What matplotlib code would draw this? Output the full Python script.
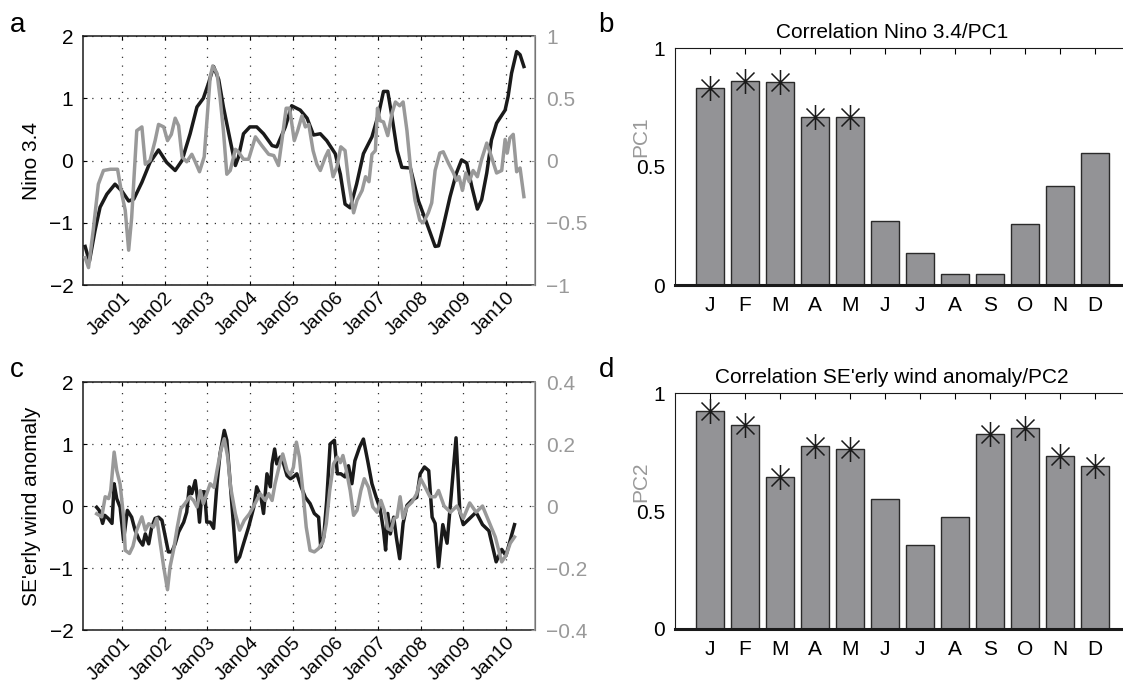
import numpy as np
import matplotlib
matplotlib.use('Agg')
import matplotlib.pyplot as plt
from matplotlib.path import Path

plt.rcParams['font.family'] = ['Liberation Sans', 'DejaVu Sans']
plt.rcParams['font.size'] = 15

# --- time series (decimal years) ---
# panel a, black: Nino 3.4 (left axis)
t_nino = [2000.14, 2000.24, 2000.37, 2000.49, 2000.65, 2000.84, 2001.0, 2001.16, 2001.28, 2001.47,
          2001.66, 2001.86, 2002.05, 2002.25, 2002.41, 2002.6, 2002.76, 2002.91, 2003.03, 2003.15,
          2003.27, 2003.38, 2003.54, 2003.66, 2003.73, 2003.85, 2004.0, 2004.16, 2004.32, 2004.52,
          2004.63, 2004.83, 2004.98, 2005.18, 2005.34, 2005.49, 2005.65, 2005.8, 2006.0, 2006.12,
          2006.23, 2006.35, 2006.5, 2006.66, 2006.86, 2007.02, 2007.13, 2007.23, 2007.33, 2007.45,
          2007.56, 2007.76, 2007.95, 2008.14, 2008.34, 2008.42, 2008.53, 2008.69, 2008.84, 2008.96,
          2009.08, 2009.2, 2009.33, 2009.43, 2009.55, 2009.66, 2009.78, 2009.98, 2010.05, 2010.13,
          2010.25, 2010.33, 2010.42]
nino = [-1.38, -1.62, -1.13, -0.75, -0.54, -0.38, -0.49, -0.65, -0.62, -0.35,
        -0.03, 0.17, -0.03, -0.16, 0.0, 0.43, 0.86, 1.0, 1.24, 1.51,
        1.3, 0.86, 0.32, -0.08, 0.05, 0.43, 0.54, 0.54, 0.43, 0.24,
        0.22, 0.54, 0.88, 0.81, 0.68, 0.41, 0.43, 0.32, 0.11, -0.22,
        -0.7, -0.76, -0.38, 0.11, 0.38, 0.76, 1.11, 1.11, 0.7, 0.16,
        -0.11, -0.12, -0.65, -1.0, -1.38, -1.37, -1.06, -0.58, -0.2, 0.01,
        -0.04, -0.42, -0.78, -0.63, -0.2, 0.33, 0.6, 0.81, 1.03, 1.4,
        1.75, 1.7, 1.51]

# panel a, grey: PC1 (right axis)
t_pc1 = [2000.14, 2000.22, 2000.33, 2000.45, 2000.57, 2000.73, 2000.9, 2001.0, 2001.08, 2001.16,
         2001.23, 2001.35, 2001.47, 2001.55, 2001.66, 2001.78, 2001.86, 2001.98, 2002.07, 2002.16,
         2002.25, 2002.33, 2002.41, 2002.52, 2002.64, 2002.72, 2002.82, 2002.93, 2003.0, 2003.07,
         2003.13, 2003.23, 2003.3, 2003.38, 2003.46, 2003.54, 2003.66, 2003.73, 2003.85, 2003.97,
         2004.13, 2004.28, 2004.44, 2004.56, 2004.67, 2004.75, 2004.85, 2004.93, 2005.04, 2005.12,
         2005.22, 2005.3, 2005.38, 2005.48, 2005.57, 2005.65, 2005.77, 2005.84, 2005.95, 2006.04,
         2006.13, 2006.23, 2006.31, 2006.43, 2006.51, 2006.63, 2006.71, 2006.79, 2006.86, 2006.94,
         2006.99, 2007.05, 2007.13, 2007.23, 2007.33, 2007.41, 2007.51, 2007.59, 2007.68, 2007.77,
         2007.87, 2007.98, 2008.06, 2008.18, 2008.26, 2008.34, 2008.45, 2008.53, 2008.65, 2008.77,
         2008.84, 2008.9, 2008.98, 2009.06, 2009.14, 2009.23, 2009.33, 2009.43, 2009.55, 2009.66,
         2009.78, 2009.9, 2009.98, 2010.03, 2010.09, 2010.17, 2010.25, 2010.33, 2010.42]
pc1 = [-0.78, -0.86, -0.56, -0.19, -0.08, -0.07, -0.07, -0.27, -0.4, -0.72,
       -0.46, 0.24, 0.27, -0.03, 0.0, 0.16, 0.29, 0.27, 0.16, 0.21,
       0.34, 0.28, 0.03, -0.01, 0.05, -0.01, -0.09, 0.03, 0.35, 0.67,
       0.76, 0.7, 0.51, 0.24, -0.11, -0.08, 0.09, 0.07, 0.01, 0.01,
       0.19, 0.12, 0.05, 0.04, -0.04, 0.16, 0.42, 0.42, 0.16, 0.24,
       0.36, 0.27, 0.29, 0.08, -0.03, -0.08, 0.03, 0.08, -0.13, -0.05,
       0.11, 0.08, -0.16, -0.42, -0.32, -0.24, -0.13, -0.17, 0.05, 0.08,
       0.42, 0.32, 0.31, 0.2, 0.38, 0.47, 0.44, 0.47, 0.24, -0.08,
       -0.32, -0.48, -0.5, -0.42, -0.34, -0.08, 0.06, 0.07, -0.02, -0.1,
       -0.16, -0.13, -0.24, -0.1, -0.17, -0.08, -0.13, 0.01, 0.14, 0.03,
       -0.1, -0.08, 0.17, 0.06, 0.18, 0.21, -0.09, -0.06, -0.29]

# panel c, black: SE'erly wind anomaly (left axis)
t_wind = [2000.41, 2000.47, 2000.55, 2000.6, 2000.68, 2000.77, 2000.82, 2000.88, 2000.96, 2001.04,
          2001.13, 2001.23, 2001.31, 2001.41, 2001.49, 2001.55, 2001.63, 2001.7, 2001.78, 2001.86,
          2001.94, 2002.02, 2002.09, 2002.17, 2002.25, 2002.33, 2002.45, 2002.52, 2002.58, 2002.64,
          2002.72, 2002.77, 2002.82, 2002.88, 2002.94, 2002.99, 2003.07, 2003.15, 2003.23, 2003.3,
          2003.4, 2003.46, 2003.54, 2003.62, 2003.68, 2003.76, 2003.85, 2003.97, 2004.09, 2004.16,
          2004.26, 2004.32, 2004.4, 2004.48, 2004.52, 2004.58, 2004.63, 2004.71, 2004.79, 2004.87,
          2004.95, 2005.02, 2005.1, 2005.2, 2005.3, 2005.41, 2005.51, 2005.61, 2005.66, 2005.73,
          2005.8, 2005.88, 2005.98, 2006.05, 2006.13, 2006.23, 2006.31, 2006.39, 2006.46, 2006.57,
          2006.66, 2006.76, 2006.86, 2006.96, 2007.05, 2007.13, 2007.18, 2007.23, 2007.29, 2007.37,
          2007.43, 2007.51, 2007.59, 2007.68, 2007.79, 2007.91, 2007.99, 2008.09, 2008.19, 2008.27,
          2008.34, 2008.42, 2008.52, 2008.62, 2008.72, 2008.83, 2008.92, 2009.0, 2009.15, 2009.3,
          2009.45, 2009.6, 2009.77, 2009.9, 2010.0, 2010.1, 2010.2]
wind = [-0.02, -0.07, -0.28, -0.15, -0.2, -0.28, 0.36, 0.12, -0.02, -0.55,
        -0.07, -0.18, -0.39, -0.55, -0.63, -0.45, -0.61, -0.34, -0.2, -0.18,
        -0.23, -0.5, -0.74, -0.74, -0.61, -0.42, -0.26, -0.1, 0.31, 0.2,
        0.41, 0.14, -0.26, 0.23, 0.23, -0.26, -0.26, -0.36, 0.36, 0.84,
        1.22, 1.06, 0.36, -0.34, -0.9, -0.82, -0.61, -0.34, -0.02, 0.31,
        0.14, -0.12, 0.52, 0.31, 0.68, 0.92, 0.68, 0.79, 0.68, 0.49,
        0.44, 0.47, 0.52, 0.31, 0.14, 0.04, -0.12, -0.18, -0.66, -0.5,
        0.09, 1.0, 1.06, 0.52, 0.52, 0.47, 0.65, 0.36, 0.73, 0.95,
        1.08, 0.73, 0.36, 0.14, -0.04, -0.39, -0.71, -0.12, -0.45, -0.18,
        -0.5, -0.85, -0.28, 0.01, 0.09, 0.14, 0.52, 0.63, 0.57, -0.18,
        -0.28, -0.98, -0.3, -0.6, 0.2, 1.1, -0.1, -0.3, -0.2, -0.1,
        -0.3, -0.4, -0.9, -0.7, -0.8, -0.55, -0.3]

# panel c, grey: PC2 (right axis)
t_pc2 = [2000.41, 2000.53, 2000.61, 2000.69, 2000.74, 2000.82, 2000.88, 2000.96, 2001.04, 2001.08,
         2001.18, 2001.26, 2001.35, 2001.47, 2001.55, 2001.63, 2001.74, 2001.82, 2001.9, 2001.98,
         2002.07, 2002.13, 2002.21, 2002.3, 2002.38, 2002.48, 2002.59, 2002.68, 2002.76, 2002.84,
         2002.91, 2002.99, 2003.07, 2003.16, 2003.23, 2003.32, 2003.4, 2003.48, 2003.55, 2003.66,
         2003.76, 2003.87, 2003.99, 2004.12, 2004.24, 2004.36, 2004.44, 2004.52, 2004.59, 2004.7,
         2004.77, 2004.87, 2004.95, 2005.02, 2005.09, 2005.16, 2005.24, 2005.32, 2005.41, 2005.51,
         2005.61, 2005.71, 2005.79, 2005.87, 2005.96, 2006.05, 2006.12, 2006.18, 2006.26, 2006.35,
         2006.43, 2006.51, 2006.6, 2006.68, 2006.78, 2006.88, 2006.98, 2007.07, 2007.15, 2007.23,
         2007.31, 2007.38, 2007.45, 2007.52, 2007.59, 2007.68, 2007.8, 2007.91, 2008.0, 2008.11,
         2008.22, 2008.34, 2008.42, 2008.55, 2008.7, 2008.85, 2009.0, 2009.15, 2009.3, 2009.45,
         2009.6, 2009.75, 2009.9, 2010.0, 2010.1, 2010.2]
pc2 = [-0.025, -0.035, 0.03, 0.024, 0.05, 0.174, 0.115, 0.07, -0.035, -0.143,
       -0.153, -0.13, -0.078, -0.035, -0.078, -0.057, -0.068, -0.04, -0.12, -0.196,
       -0.27, -0.196, -0.143, -0.068, -0.009, 0.008, 0.03, 0.018, -0.003, 0.05,
       0.008, 0.04, 0.072, 0.06, 0.115, 0.18, 0.217, 0.158, 0.06, -0.025,
       -0.078, -0.046, -0.025, 0.008, 0.04, 0.018, 0.04, 0.018, 0.072, 0.136,
       0.168, 0.115, 0.1, 0.125, 0.206, 0.158, 0.05, -0.068, -0.143, -0.148,
       -0.137, -0.116, -0.057, 0.05, 0.136, 0.158, 0.14, 0.163, 0.115, 0.05,
       -0.03, -0.014, 0.05, 0.088, 0.06, -0.003, -0.02, 0.018, -0.014, -0.073,
       -0.078, -0.04, -0.035, 0.03, -0.04, -0.003, 0.013, 0.04, 0.088, 0.06,
       0.03, 0.03, 0.05, 0.0, -0.02, 0.0, -0.04, 0.01, -0.02, 0.0,
       -0.05, -0.1, -0.18, -0.16, -0.12, -0.1]

year_ticks = [2001, 2002, 2003, 2004, 2005, 2006, 2007, 2008, 2009, 2010]
year_labels = ['Jan01', 'Jan02', 'Jan03', 'Jan04', 'Jan05', 'Jan06', 'Jan07', 'Jan08', 'Jan09', 'Jan10']

# --- monthly correlations ---
months = ['J', 'F', 'M', 'A', 'M', 'J', 'J', 'A', 'S', 'O', 'N', 'D']
corr_pc1 = [0.831, 0.859, 0.855, 0.708, 0.711, 0.270, 0.134, 0.046, 0.046, 0.256, 0.417, 0.555]
sig_pc1 = [1, 1, 1, 1, 1, 0, 0, 0, 0, 0, 0, 0]
corr_pc2 = [0.923, 0.865, 0.646, 0.776, 0.761, 0.552, 0.358, 0.475, 0.827, 0.852, 0.735, 0.692]
sig_pc2 = [1, 1, 1, 1, 1, 0, 0, 0, 1, 1, 1, 1]

BLACK = '#1a1a1a'
GREY = '#999999'
BAR = '#939396'

# asterisk: vertical bar + x
star = Path([(0, -1), (0, 1), (-0.72, -0.72), (0.72, 0.72), (-0.72, 0.72), (0.72, -0.72)],
            [Path.MOVETO, Path.LINETO, Path.MOVETO, Path.LINETO, Path.MOVETO, Path.LINETO])

fig = plt.figure(figsize=(11.23, 6.86), dpi=100)


def ts_panel(rect, t1, y1, t2, y2, ylim, rlim, rticks, ylabel):
    ax = fig.add_axes(rect)
    ax2 = ax.twinx()
    ax.plot(t1, y1, color=BLACK, lw=2.5, zorder=3)
    ax2.plot(t2, y2, color=GREY, lw=2.5, zorder=3)
    ax.set_xlim(2000.09, 2010.68)
    ax.set_ylim(*ylim)
    ax.set_yticks([-2, -1, 0, 1, 2])
    ax.set_yticklabels(['\u22122', '\u22121', '0', '1', '2'])
    ax2.set_ylim(*rlim)
    ax2.set_yticks(rticks)
    ax2.set_yticklabels([('%g' % v).replace('-', '\u2212') for v in rticks], color=GREY)
    ax.set_xticks(year_ticks)
    ax.set_xticklabels(year_labels, rotation=45, ha='right', rotation_mode='anchor', fontsize=14)
    ax.grid(True, ls=(0, (1, 6)), color='#333333', lw=0.9)
    ax.tick_params(axis='y', direction='in', length=3, labelsize=15, pad=7)
    ax.tick_params(axis='x', direction='in', length=3, top=True, pad=3)
    ax2.tick_params(direction='in', length=3, colors=GREY, labelsize=15, pad=8)
    for s in ['left', 'bottom', 'top']:
        ax.spines[s].set_linewidth(1.1)
        ax.spines[s].set_color(BLACK)
    ax2.spines['right'].set_color(GREY)
    ax2.spines['right'].set_linewidth(1.1)
    ax2.spines['left'].set_visible(False)
    ax2.spines['top'].set_visible(False)
    ax2.spines['bottom'].set_visible(False)
    ax.set_ylabel(ylabel, fontsize=15, labelpad=6)
    return ax


def bar_panel(rect, vals, sig, title, ylabel):
    ax = fig.add_axes(rect)
    x = np.arange(1, 13)
    ax.bar(x, vals, width=0.8, color=BAR, edgecolor='#2a2a2a', lw=1.0, zorder=2)
    for xi, v, s in zip(x, vals, sig):
        if s:
            ax.plot(xi, v, marker=star, ms=18, mew=1.1, color=BLACK, mfc='none', zorder=3)
    ax.set_xlim(0, 13)
    ax.set_ylim(0, 1)
    ax.set_yticks([0, 0.5, 1])
    ax.set_yticklabels(['0', '0.5', '1'])
    ax.set_xticks(x)
    ax.set_xticklabels(months)
    ax.tick_params(axis='x', direction='in', length=4, top=True, bottom=False, labelsize=15, pad=8)
    ax.tick_params(axis='y', direction='in', length=0, labelsize=15, pad=7)
    ax.spines['right'].set_visible(False)
    ax.spines['bottom'].set_linewidth(2.2)
    ax.spines['bottom'].set_color(BLACK)
    ax.spines['left'].set_color(BLACK)
    ax.spines['top'].set_color(BLACK)
    ax.set_title(title, fontsize=15, pad=7, x=0.477)
    ax.set_ylabel(ylabel, color=GREY, fontsize=15)
    ax.yaxis.set_label_coords(-0.055, 0.625)
    return ax


ts_panel([0.0739, 0.5845, 0.4025, 0.363], t_nino, nino, t_pc1, pc1,
         (-2, 2), (-1, 1), [-1, -0.5, 0, 0.5, 1], 'Nino 3.4')
ts_panel([0.0739, 0.0816, 0.4025, 0.3615], t_wind, wind, t_pc2, pc2,
         (-2, 2), (-0.4, 0.4), [-0.4, -0.2, 0, 0.2, 0.4], "SE'erly wind anomaly")
bar_panel([0.601, 0.5845, 0.405, 0.3455], corr_pc1, sig_pc1, 'Correlation Nino 3.4/PC1', 'PC1')
bar_panel([0.601, 0.0831, 0.405, 0.344], corr_pc2, sig_pc2, "Correlation SE'erly wind anomaly/PC2", 'PC2')

for lab, (xx, yy) in zip('abcd', [(0.009, 0.953), (0.533, 0.953), (0.009, 0.45), (0.533, 0.45)]):
    fig.text(xx, yy, lab, fontsize=20)

fig.savefig('out.png', dpi=100)
